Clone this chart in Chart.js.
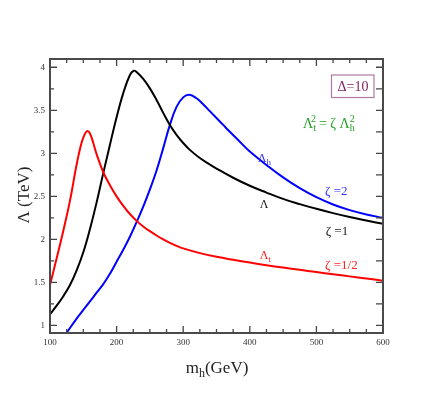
<!DOCTYPE html>
<html>
<head>
<meta charset="utf-8">
<script src="https://cdn.jsdelivr.net/npm/chart.js@4/dist/chart.umd.min.js"></script>
<style>
  html, body { margin: 0; padding: 0; background: #ffffff; }
  #wrap { width: 432px; height: 393px; position: relative; }
</style>
</head>
<body>
<div id="wrap"><canvas id="c" width="432" height="393"></canvas></div>
<script>
// ---- data ----
const mhLambda   = [100,110,120,130,140,150,160,170,180,190,200,210,220,226,230,240,250,260,270,280,290,300,310,325,340,350,375,400,425,450,475,500,525,550,575,600];
const lambdaTeV  = [1.13,1.23,1.34,1.47,1.64,1.85,2.12,2.43,2.77,3.10,3.42,3.70,3.91,3.96,3.945,3.865,3.755,3.62,3.47,3.33,3.215,3.12,3.04,2.945,2.87,2.823,2.716,2.623,2.544,2.47,2.41,2.355,2.305,2.26,2.22,2.18];

const mhLambdaT  = [100,110,120,130,140,147,152,156,160,165,170,180,190,200,210,220,230,240,250,260,270,280,290,300,325,350,375,400,425,450,475,500,525,550,575,600];
const lambdaT    = [1.47,1.78,2.10,2.45,2.87,3.11,3.22,3.26,3.23,3.12,2.99,2.78,2.63,2.50,2.39,2.295,2.215,2.15,2.095,2.045,2.00,1.96,1.925,1.895,1.84,1.797,1.762,1.73,1.70,1.672,1.646,1.62,1.595,1.57,1.545,1.52];

const mhLambdaH  = [120,125,140,150,160,170,180,190,200,210,220,230,240,250,260,270,280,290,300,309,320,330,340,350,360,370,385,400,425,450,475,500,525,550,575,600];
const lambdaH    = [0.86,0.915,1.08,1.18,1.28,1.38,1.48,1.60,1.74,1.88,2.03,2.20,2.38,2.58,2.80,3.06,3.33,3.54,3.65,3.68,3.64,3.57,3.49,3.41,3.33,3.25,3.135,3.02,2.865,2.72,2.595,2.49,2.405,2.34,2.29,2.25];

const xTickValues = [100,200,300,400,500,600];
const yTickValues = [1,1.5,2,2.5,3,3.5,4];

function pts(xs, ys){ return xs.map((x,i)=>({x:x, y:ys[i]})); }

const SERIF = "'Liberation Serif','DejaVu Serif',serif";

function drawRich(ctx, x, y, segs, color){
  ctx.save();
  ctx.fillStyle = color;
  ctx.textBaseline = 'alphabetic';
  ctx.textAlign = 'left';
  let cx = x;
  for (const s of segs){
    ctx.font = s.size + 'px ' + SERIF;
    ctx.fillText(s.t, cx, y + (s.dy||0));
    cx += ctx.measureText(s.t).width + (s.gap||0);
  }
  ctx.restore();
  return cx;
}
function richWidth(ctx, segs){
  let w = 0;
  for (const s of segs){ ctx.font = s.size + 'px ' + SERIF; w += ctx.measureText(s.t).width + (s.gap||0); }
  return w;
}

const decor = {
  id: 'decor',
  afterDatasetsDraw(chart){
    const ctx = chart.ctx;
    const a = chart.chartArea;
    const xs = chart.scales.x, ys = chart.scales.y;
    ctx.save();
    ctx.strokeStyle = '#444';
    ctx.lineWidth = 1.3;
    ctx.beginPath();
    for (let v = 100; v <= 600; v += 25){
      const p = xs.getPixelForValue(v);
      const len = (v % 100 === 0) ? 7 : 4;
      ctx.moveTo(p, a.bottom); ctx.lineTo(p, a.bottom - len);
      ctx.moveTo(p, a.top);    ctx.lineTo(p, a.top + len);
    }
    for (let v = 1; v <= 4.001; v += 0.25){
      const p = ys.getPixelForValue(v);
      const major = Math.abs(v*2 - Math.round(v*2)) < 1e-6;
      const len = major ? 7 : 4;
      ctx.moveTo(a.left, p);  ctx.lineTo(a.left + len, p);
      ctx.moveTo(a.right, p); ctx.lineTo(a.right - 7, p);
    }
    ctx.stroke();
    ctx.strokeStyle = '#4a4a4a';
    ctx.lineWidth = 2;
    ctx.strokeRect(a.left, a.top, a.right - a.left, a.bottom - a.top);

    ctx.fillStyle = '#222';
    ctx.font = '17px ' + SERIF;
    ctx.save();
    ctx.translate(25, (a.top + a.bottom)/2 - 1);
    ctx.rotate(-Math.PI/2);
    ctx.textAlign = 'center';
    ctx.textBaseline = 'middle';
    ctx.fillText('\u039B (TeV)', 0, 0);
    ctx.restore();

    const xt = [{t:'m', size:17},{t:'h', size:12, dy:4},{t:'(GeV)', size:17}];
    const xw = richWidth(ctx, xt);
    drawRich(ctx, 217 - xw/2, 373, xt, '#222');

    ctx.strokeStyle = '#b07aa2';
    ctx.lineWidth = 1.2;
    ctx.strokeRect(331.5, 75, 42.5, 22.5);
    ctx.fillStyle = '#7a1f5d';
    ctx.font = '14px ' + SERIF;
    ctx.textAlign = 'center';
    ctx.textBaseline = 'middle';
    ctx.fillText('\u0394=10', 353, 87);

    drawRich(ctx, 303, 128, [
      {t:'\u039B', size:14},{t:'t', size:10, dy:3, gap:-5},{t:'2', size:10, dy:-6, gap:3},
      {t:'= \u03B6 \u039B', size:14},{t:'h', size:10, dy:3, gap:-5},{t:'2', size:10, dy:-6}
    ], '#22a022');

    const P = (m, L) => [xs.getPixelForValue(m), ys.getPixelForValue(L)];
    let p;
    p = P(412, 2.90); drawRich(ctx, p[0], p[1], [{t:'\u039B', size:12},{t:'h', size:9, dy:3}], '#3333ff');
    p = P(513, 2.52); drawRich(ctx, p[0], p[1], [{t:'\u03B6 =2', size:13}], '#3333ff');
    p = P(415, 2.37); drawRich(ctx, p[0], p[1], [{t:'\u039B', size:12}], '#222');
    p = P(514, 2.05); drawRich(ctx, p[0], p[1], [{t:'\u03B6 =1', size:13}], '#222');
    p = P(415, 1.77); drawRich(ctx, p[0], p[1], [{t:'\u039B', size:12},{t:'t', size:9, dy:3}], '#ff2222');
    p = P(513, 1.66); drawRich(ctx, p[0], p[1], [{t:'\u03B6 =1/2', size:13}], '#ff2222');
    ctx.restore();
  }
};

const ds = (data, color) => ({
  data, borderColor: color, borderWidth: 2, pointRadius: 0, fill: false,
  cubicInterpolationMode: 'default', tension: 0.4
});

new Chart(document.getElementById('c'), {
  type: 'line',
  data: {
    datasets: [
      ds(pts(mhLambdaT, lambdaT), '#ff0000'),
      ds(pts(mhLambda, lambdaTeV), '#000000'),
      ds(pts(mhLambdaH, lambdaH), '#0000ff')
    ]
  },
  options: {
    responsive: false,
    animation: false,
    devicePixelRatio: 1,
    layout: { padding: { left: 0, right: 49, top: 59, bottom: 0 } },
    plugins: { legend: { display: false }, tooltip: { enabled: false } },
    scales: {
      x: {
        type: 'linear', min: 100, max: 600,
        afterFit(s){ s.height = 60; },
        afterBuildTicks(s){ s.ticks = xTickValues.map(v => ({value: v})); },
        grid: { display: false, drawTicks: false },
        border: { display: false },
        ticks: { font: { family: SERIF, size: 9 }, color: '#333', padding: 4, maxRotation: 0,
                 callback: v => String(v) }
      },
      y: {
        type: 'linear', min: 0.912, max: 4.096,
        afterFit(s){ s.width = 50; },
        afterBuildTicks(s){ s.ticks = yTickValues.map(v => ({value: v})); },
        grid: { display: false, drawTicks: false },
        border: { display: false },
        ticks: { font: { family: SERIF, size: 9 }, color: '#333', padding: 5,
                 callback: v => String(v) }
      }
    }
  },
  plugins: [decor]
});
</script>
</body>
</html>
